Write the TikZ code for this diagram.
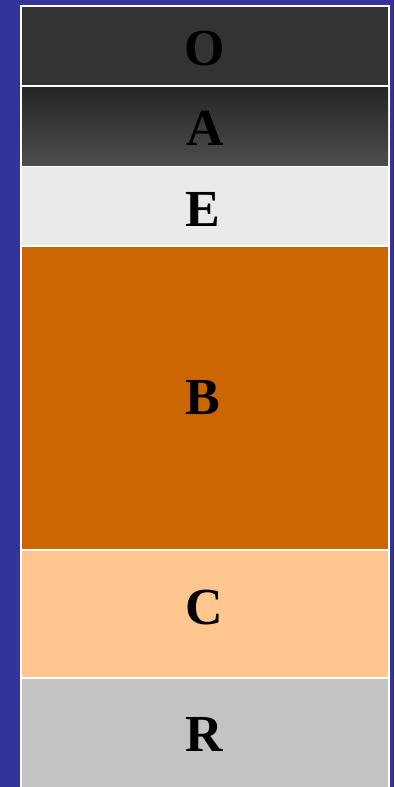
\documentclass[tikz,border=0pt]{standalone}
\usepackage{fontspec}
\setmainfont{Liberation Serif}
\definecolor{pagebg}{HTML}{333399}
\definecolor{cellO}{HTML}{333333}
\definecolor{cellAtop}{HTML}{252525}
\definecolor{cellAbot}{HTML}{4D4D4D}
\definecolor{cellE}{HTML}{EAEAEA}
\definecolor{cellB}{HTML}{CC6600}
\definecolor{cellC}{HTML}{FFC690}
\definecolor{cellR}{HTML}{C3C3C3}
\tikzset{
  layerlabel/.style={anchor=base, font=\fontsize{52}{52}\selectfont\bfseries, text=black, inner sep=0pt},
}
\begin{document}
\begin{tikzpicture}[x=1pt,y=-1pt]
  % page and white frame of the column
  \useasboundingbox (0,0) rectangle (394,787);
  \fill[pagebg] (0,0) rectangle (394,787);
  \fill[white] (20,5) rectangle (390,787);
  % layer cells
  \fill[cellO] (22,7) rectangle (388,85);
  \shade[top color=cellAtop, bottom color=cellAbot] (22,87) rectangle (388,165);
  \fill[cellE] (22,167) rectangle (388,245);
  \fill[cellB] (22,247) rectangle (388,549);
  \fill[cellC] (22,551) rectangle (388,677);
  \fill[cellR] (22,679) rectangle (388,787);
  % layer letters
  \node[layerlabel] (lO) at (204.5,65) {O};
  \node[layerlabel] (lA) at (205,145) {A};
  \node[layerlabel] (lE) at (203,226.5) {E};
  \node[layerlabel] (lB) at (203,414) {B};
  \node[layerlabel] (lC) at (204,624) {C};
  \node[layerlabel] (lR) at (204,751.5) {R};
\end{tikzpicture}
\end{document}
